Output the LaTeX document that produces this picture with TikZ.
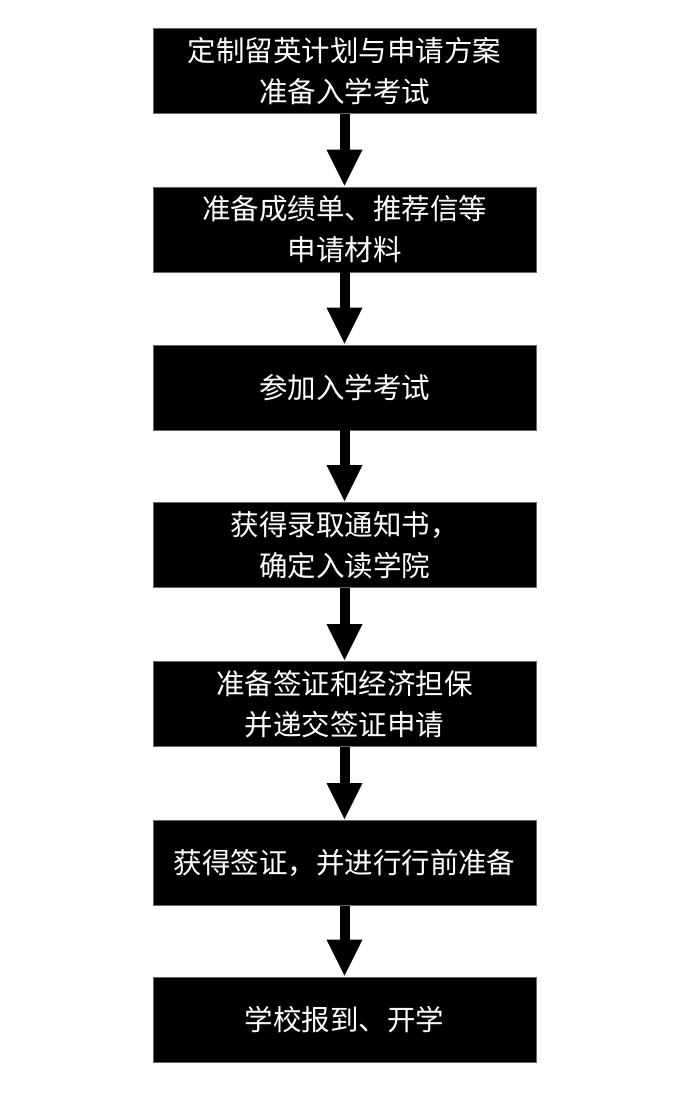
\documentclass[tikz,border=0pt]{standalone}
\usepackage{fontspec}
\newfontfamily\cjk{Noto Sans CJK SC}
\usetikzlibrary{arrows.meta}
\begin{document}
\begin{tikzpicture}[x=1pt,y=-1pt,
  stepbox/.style={fill=black,draw=black!60,line width=0.6pt,text=white,
    minimum width=383pt,minimum height=85pt,inner sep=0pt,align=center,
    font=\cjk\fontsize{28.5}{41}\selectfont},
  flow/.style={line width=10pt,-{Triangle[width=33pt,length=37pt]}}]
\useasboundingbox[fill=white] (0,0) rectangle (693,1096);
\node[stepbox] (b1) at (344.5,71) {定制留英计划与申请方案\\准备入学考试};
\node[stepbox] (b2) at (344.5,229.5) {准备成绩单、推荐信等\\申请材料};
\node[stepbox] (b3) at (344.5,387.5) {参加入学考试};
\node[stepbox] (b4) at (344.5,545) {获得录取通知书，\\确定入读学院};
\node[stepbox] (b5) at (344.5,704) {准备签证和经济担保\\并递交签证申请};
\node[stepbox] (b6) at (344.5,863) {获得签证，并进行行前准备};
\node[stepbox] (b7) at (344.5,1019.5) {学校报到、开学};
\foreach \a/\b in {b1/b2,b2/b3,b3/b4,b4/b5,b5/b6,b6/b7}
  \draw[flow] (\a.south) -- (\b.north);
\end{tikzpicture}
\end{document}
